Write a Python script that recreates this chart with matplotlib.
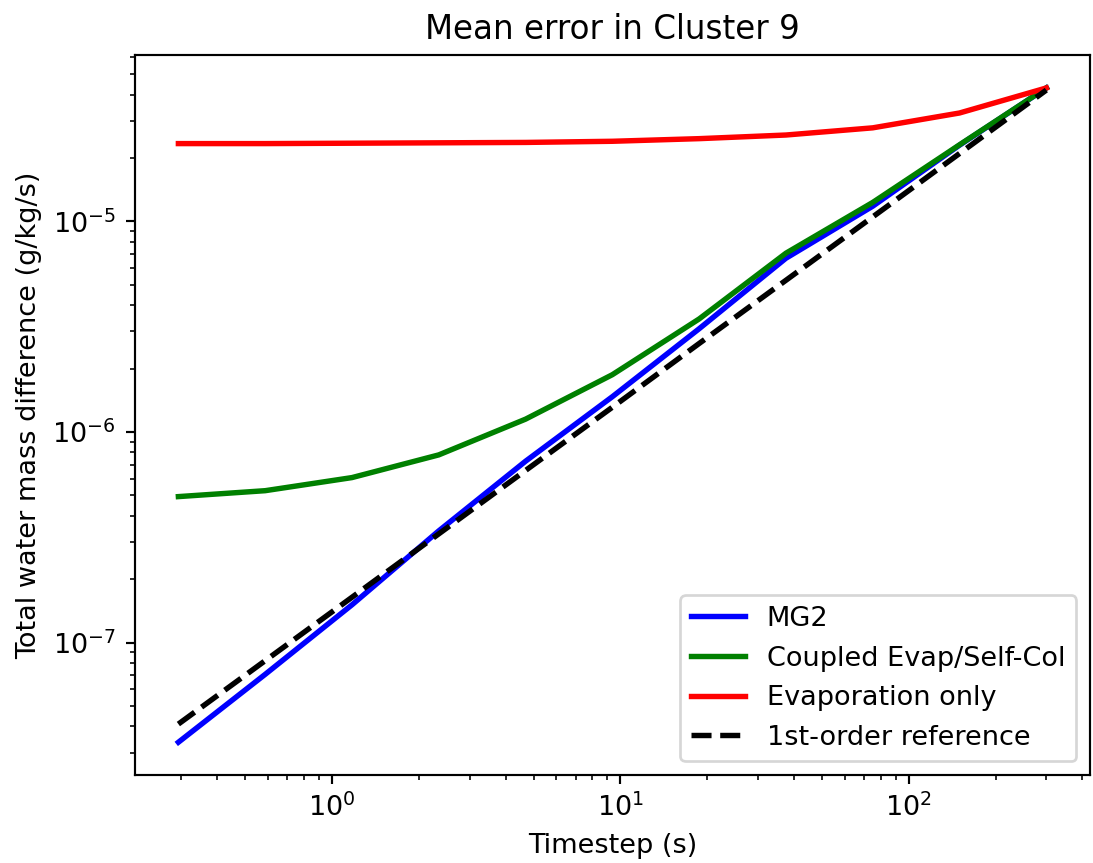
import matplotlib
matplotlib.use("Agg")
import matplotlib.pyplot as plt
import numpy as np

# timesteps (s), halved each run from 300 s
timesteps = [0.29296875, 0.5859375, 1.171875, 2.34375, 4.6875, 9.375,
             18.75, 37.5, 75.0, 150.0, 300.0]

mg2 = [3.36e-8, 7.06e-8, 1.51e-7, 3.39e-7, 7.26e-7, 1.47e-6,
       3.09e-6, 6.68e-6, 1.18e-5, 2.30e-5, 4.30e-5]
coupled = [4.93e-7, 5.26e-7, 6.07e-7, 7.78e-7, 1.15e-6, 1.87e-6,
           3.44e-6, 7.06e-6, 1.23e-5, 2.31e-5, 4.30e-5]
evap_only = [2.34e-5, 2.34e-5, 2.35e-5, 2.36e-5, 2.37e-5, 2.40e-5,
             2.47e-5, 2.57e-5, 2.78e-5, 3.27e-5, 4.30e-5]
reference = [4.10e-8, 8.20e-8, 1.64e-7, 3.28e-7, 6.56e-7, 1.31e-6,
             2.63e-6, 5.25e-6, 1.05e-5, 2.10e-5, 4.20e-5]

dpi = 195
fig = plt.figure(figsize=(1093 / dpi, 863 / dpi), dpi=dpi)
ax = fig.add_axes([0.1235, 0.102, 0.8735, 0.834])

ax.loglog(timesteps, mg2, 'b', lw=2, label='MG2')
ax.loglog(timesteps, coupled, 'g', lw=2, label='Coupled Evap/Self-Col')
ax.loglog(timesteps, evap_only, 'r', lw=2, label='Evaporation only')
ax.loglog(timesteps, reference, 'k--', lw=2, label='1st-order reference')

ax.set_title("Mean error in Cluster 9")
ax.set_xlabel("Timestep (s)")
ax.set_ylabel("Total water mass difference (g/kg/s)")
ax.legend(loc='lower right')

fig.savefig("out.png", dpi=dpi)
